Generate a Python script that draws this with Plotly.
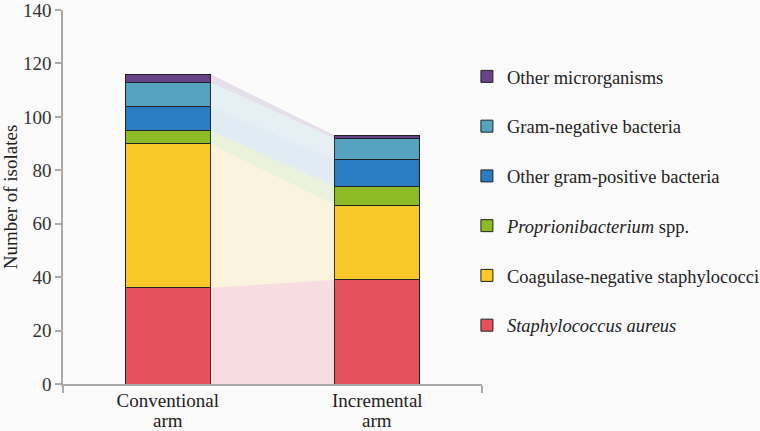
import plotly.graph_objects as go

arm_line1 = ["Conventional", "Incremental"]
arm_line2 = ["arm", "arm"]
arm_pos = [0, 1]
series_names = [
    "<i>Staphylococcus aureus</i>",
    "Coagulase-negative staphylococci",
    "<i>Proprionibacterium</i> spp.",
    "Other gram-positive bacteria",
    "Gram-negative bacteria",
    "Other microrganisms",
]
conventional = [36, 54, 5, 9, 9, 3]
incremental = [39, 28, 7, 10, 8, 1]
colors = ["#E5505D", "#F9C92C", "#8DBB25", "#2A7DC0", "#55A3BF", "#6A4288"]
ribbon_colors = [
    "rgba(229,80,93,0.17)",
    "rgba(249,201,44,0.15)",
    "rgba(141,187,37,0.15)",
    "rgba(42,125,192,0.12)",
    "rgba(85,163,191,0.12)",
    "rgba(106,66,136,0.15)",
]
y_ticks = [0, 20, 40, 60, 80, 100, 120, 140]

bar_w = 0.405
font_family = "Liberation Serif, Times New Roman, Times, serif"
fs = 19

fig = go.Figure()

# ribbons between bars
lo_c, lo_i = 0, 0
for k in range(len(series_names)):
    hi_c = lo_c + conventional[k]
    hi_i = lo_i + incremental[k]
    xl = arm_pos[0] + bar_w / 2
    xr = arm_pos[1] - bar_w / 2
    fig.add_trace(go.Scatter(
        x=[xl, xr, xr, xl, xl],
        y=[lo_c, lo_i, hi_i, hi_c, lo_c],
        fill="toself", fillcolor=ribbon_colors[k],
        line=dict(width=0), mode="lines",
        showlegend=False, hoverinfo="skip",
    ))
    lo_c, lo_i = hi_c, hi_i

n = len(series_names)
for k in range(n):
    fig.add_trace(go.Bar(
        x=arm_pos, y=[conventional[k], incremental[k]],
        name=series_names[k], width=bar_w,
        marker=dict(color=colors[k], line=dict(color="#222222", width=1)),
        legendgroup=str(k), legendrank=n - k,
    ))

for p, t in zip(arm_pos, arm_line2):
    fig.add_annotation(x=p, y=0, xref="x", yref="y", text=t, showarrow=False,
                       yanchor="top", yshift=-25, borderpad=0,
                       font=dict(family=font_family, size=fs, color="#222222"))

fig.update_layout(
    barmode="stack",
    width=760, height=431,
    margin=dict(l=63, r=278, t=10, b=47, autoexpand=False),
    paper_bgcolor="#FBFBFC", plot_bgcolor="#FBFBFC",
    font=dict(family=font_family, size=fs, color="#222222"),
    legend=dict(
        x=0.964, xanchor="left", y=0.872, yanchor="top",
        traceorder="grouped", tracegroupgap=22.7,
        font=dict(family=font_family, size=18.5, color="#222222"),
        bgcolor="rgba(0,0,0,0)",
    ),
    showlegend=True,
)
fig.update_xaxes(
    range=[-0.5, 1.5], tickvals=arm_pos, ticktext=arm_line1,
    showline=True, linecolor="#AAAAAA", linewidth=1.5,
    ticks="", showgrid=False, zeroline=False, ticklabelstandoff=-2,
    tickfont=dict(family=font_family, size=fs, color="#222222"),
    minor=dict(ticks="outside", tick0=-0.5, dtick=2, ticklen=7,
               tickcolor="#AAAAAA", tickwidth=1.5, showgrid=False),
)
fig.update_yaxes(
    range=[0, 140], tickvals=y_ticks,
    showline=True, linecolor="#AAAAAA", linewidth=1.5,
    ticks="outside", ticklen=6, tickcolor="#AAAAAA", tickwidth=1.5,
    showgrid=False, zeroline=False, ticklabeloverflow="allow",
    tickfont=dict(family=font_family, size=fs, color="#333333"),
    title=dict(text="Number of isolates",
               font=dict(family=font_family, size=fs, color="#222222"), standoff=8),
)

fig.write_html("out.html", config={"displayModeBar": False},
               post_script="document.body.style.margin='0';")
